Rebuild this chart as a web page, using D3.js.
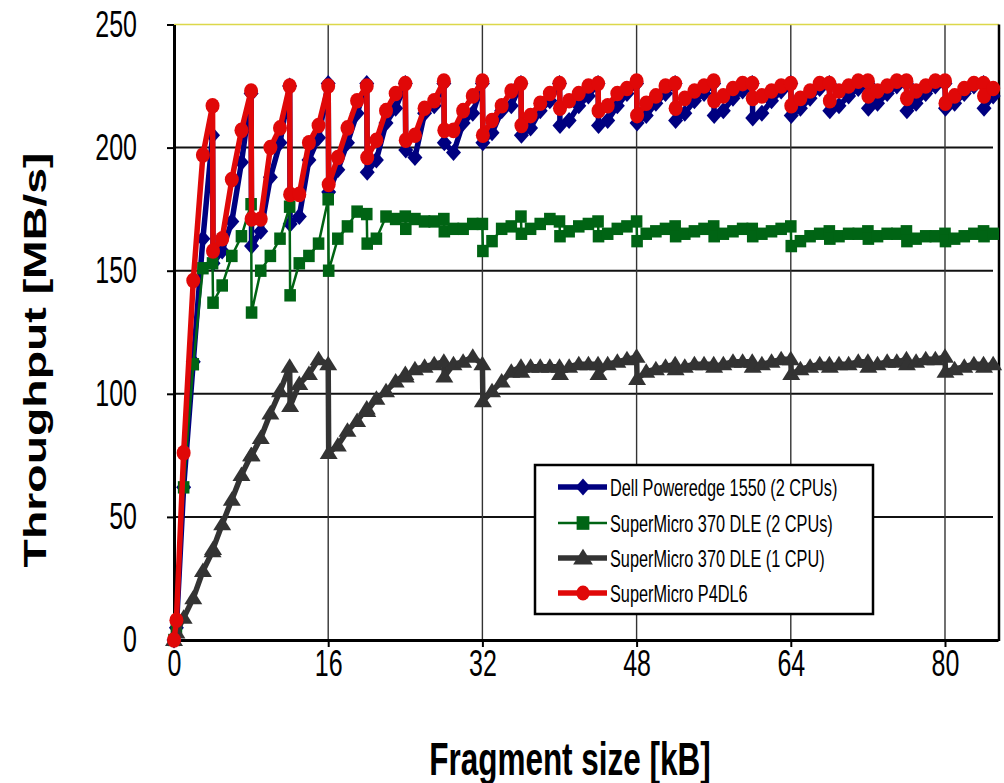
<!DOCTYPE html>
<html>
<head>
<meta charset="utf-8">
<script src="https://cdn.jsdelivr.net/npm/d3@7"></script>
<style>
  body { margin: 0; background: #fff; }
  text { font-family: "Liberation Sans", Arial, sans-serif; }
</style>
</head>
<body>
<script>
// fragment sizes in kB; the x.05 entries are the drop right after each 4 kB step
const fragmentKB = [
  0, 0.25, 1, 2, 3, 4,
  4.05, 5, 6, 7, 8,
  8.05, 9, 10, 11, 12,
  12.05, 13, 14, 15, 16,
  16.05, 17, 18, 19, 20,
  20.05, 21, 22, 23, 24,
  24.05, 25, 26, 27, 28,
  28.05, 29, 30, 31, 32,
  32.05, 33, 34, 35, 36,
  36.05, 37, 38, 39, 40,
  40.05, 41, 42, 43, 44,
  44.05, 45, 46, 47, 48,
  48.05, 49, 50, 51, 52,
  52.05, 53, 54, 55, 56,
  56.05, 57, 58, 59, 60,
  60.05, 61, 62, 63, 64,
  64.05, 65, 66, 67, 68,
  68.05, 69, 70, 71, 72,
  72.05, 73, 74, 75, 76,
  76.05, 77, 78, 79, 80,
  80.05, 81, 82, 83, 84,
  84.05, 85
];

const dellValues = [
  0, 5, 62, 113, 163, 205,
  153, 158, 170, 194, 222,
  160, 166, 188, 202, 225,
  169, 172, 195, 204, 226,
  182, 191, 202, 214, 226,
  190, 195, 210, 216, 226,
  199, 196, 214, 217, 226,
  202, 198, 210, 214, 226,
  202, 206, 215, 217, 226,
  205, 208, 215, 219, 226,
  209, 211, 217, 221, 226,
  209, 211, 217, 222, 226,
  210, 213, 218, 222, 226,
  211, 214, 219, 222, 226,
  213, 215, 220, 223, 226,
  212, 214, 219, 223, 226,
  213, 216, 220, 224, 226,
  215, 217, 221, 224, 226,
  216, 218, 222, 225, 226,
  215, 218, 222, 225, 226,
  216, 218, 222, 225, 226,
  216, 221
];

const sm370TwoCpuValues = [
  0, 5, 62, 112, 151, 153,
  137, 144, 156, 164, 177,
  133, 150, 156, 163, 176,
  140, 153, 156, 161, 179,
  150, 163, 168, 174, 173,
  161, 163, 172, 171, 172,
  167, 171, 170, 170, 171,
  166, 167, 167, 169, 169,
  158, 162, 167, 168, 172,
  165, 167, 169, 171, 170,
  164, 166, 168, 169, 170,
  164, 165, 167, 168, 170,
  162, 165, 166, 167, 168,
  164, 165, 166, 167, 168,
  164, 165, 166, 167, 167,
  164, 165, 166, 167, 168,
  160, 162, 164, 165, 166,
  163, 164, 165, 165, 166,
  163, 164, 165, 165, 166,
  162, 163, 164, 164, 165,
  162, 163, 164, 165, 166,
  164, 165
];

const sm370OneCpuValues = [
  0, 3, 9, 17, 28, 36,
  37, 47, 57, 67, 75,
  75, 82, 92, 101, 111,
  95, 104, 108, 114, 112,
  76, 79, 85, 89, 94,
  93, 98, 101, 105, 108,
  107, 110, 111, 112, 113,
  107, 112, 113, 115, 112,
  97, 101, 105, 109, 111,
  109, 111, 111, 111, 111,
  108, 111, 112, 112, 112,
  108, 112, 113, 114, 115,
  106, 109, 110, 111, 112,
  110, 111, 112, 112, 112,
  111, 112, 113, 113, 113,
  111, 112, 113, 114, 114,
  108, 110, 111, 112, 112,
  111, 112, 112, 113, 113,
  111, 112, 113, 113, 114,
  112, 113, 114, 114, 115,
  109, 110, 111, 112, 112,
  111, 112
];

const p4dl6Values = [
  0, 8, 76, 146, 197, 217,
  158, 163, 187, 207, 223,
  171, 171, 200, 208, 225,
  181, 181, 202, 209, 225,
  185, 196, 208, 219, 225,
  196, 203, 215, 222, 226,
  203, 205, 216, 219, 227,
  207, 207, 215, 221, 227,
  205, 211, 217, 223, 226,
  209, 213, 218, 222, 226,
  216, 219, 222, 225, 226,
  215, 217, 222, 224, 227,
  213, 218, 221, 225, 226,
  216, 220, 223, 225, 227,
  219, 221, 224, 226, 226,
  220, 221, 223, 225, 226,
  217, 220, 223, 226, 226,
  219, 223, 225, 227, 227,
  221, 223, 225, 227, 227,
  220, 223, 225, 227, 227,
  218, 221, 224, 226, 226,
  221, 224
];

const seriesNames = [
  "Dell Poweredge 1550 (2 CPUs)",
  "SuperMicro 370 DLE (2 CPUs)",
  "SuperMicro 370 DLE (1 CPU)",
  "SuperMicro P4DL6"
];
const xTicks = [0, 16, 32, 48, 64, 80];
const yTicks = [0, 50, 100, 150, 200, 250];

// the whole picture is stretched vertically, text too
const STRETCH = 1.45;

// marker shapes (a bit taller than wide)
const markers = {
  diamond: "M0,-8.5L7.5,0L0,8.5L-7.5,0Z",
  square: "M-5.8,-6.2H5.8V6.2H-5.8Z",
  triangle: "M0,-8.5L9,6L-9,6Z",
  circle: "M-7,0A7,7.8 0 1,0 7,0A7,7.8 0 1,0 -7,0Z"
};

const series = [
  { name: seriesNames[0], values: dellValues, color: "#000080", width: 5.5, marker: "diamond" },
  { name: seriesNames[1], values: sm370TwoCpuValues, color: "#006414", width: 2.5, marker: "square" },
  { name: seriesNames[2], values: sm370OneCpuValues, color: "#333333", width: 5.5, marker: "triangle" },
  { name: seriesNames[3], values: p4dl6Values, color: "#e00808", width: 5.5, marker: "circle" }
];

const x = d3.scaleLinear().domain([0, 85.5]).range([174, 998]);
const y = d3.scaleLinear().domain([0, 250]).range([640, 24.5]);

const svg = d3.select("body").append("svg").attr("width", 1004).attr("height", 783);

// grid
svg.append("g")
  .selectAll("line")
  .data(yTicks.filter((d) => d > 0 && d < 250))
  .join("line")
  .attr("x1", x(0))
  .attr("x2", 993)
  .attr("y1", (d) => y(d))
  .attr("y2", (d) => y(d))
  .attr("stroke", "#111")
  .attr("stroke-width", 2);

svg.append("g")
  .selectAll("line")
  .data(xTicks.filter((d) => d > 0))
  .join("line")
  .attr("x1", (d) => x(d))
  .attr("x2", (d) => x(d))
  .attr("y1", y(250))
  .attr("y2", y(0))
  .attr("stroke", "#333")
  .attr("stroke-width", 1.4);

// top and right frame
svg.append("line")
  .attr("x1", x(0)).attr("x2", 999)
  .attr("y1", y(250)).attr("y2", y(250))
  .attr("stroke", "#dcd84a")
  .attr("stroke-width", 1.5);
svg.append("line")
  .attr("x1", 999).attr("x2", 999)
  .attr("y1", y(250)).attr("y2", y(0) + 1)
  .attr("stroke", "#000")
  .attr("stroke-width", 2.5);

// y axis
const yAxis = svg.append("g")
  .attr("transform", `translate(${x(0)},0)`)
  .call(d3.axisLeft(y).tickValues(yTicks).tickSize(7).tickSizeOuter(0).tickPadding(30));
yAxis.select(".domain").attr("stroke-width", 3);
yAxis.selectAll(".tick line").attr("stroke-width", 2);
yAxis.selectAll(".tick text")
  .attr("font-size", 25)
  .attr("fill", "#000")
  .attr("transform", `scale(1,${STRETCH})`);

// x axis
const xAxis = svg.append("g")
  .attr("transform", `translate(0,${y(0)})`)
  .call(d3.axisBottom(x).tickValues(xTicks).tickSize(7).tickSizeOuter(0));
xAxis.select(".domain").attr("stroke-width", 3);
xAxis.selectAll(".tick line").attr("stroke-width", 2);
xAxis.selectAll(".tick text")
  .attr("font-size", 25)
  .attr("fill", "#000")
  .attr("y", 7)
  .attr("transform", `scale(1,${STRETCH})`);

// axis titles
svg.append("text")
  .attr("transform", `translate(570,775) scale(1,${STRETCH})`)
  .attr("text-anchor", "middle")
  .attr("font-size", 31.5)
  .attr("font-weight", "bold")
  .text("Fragment size [kB]");

svg.append("text")
  .attr("transform", `translate(46,360) rotate(-90) scale(${STRETCH},1)`)
  .attr("text-anchor", "middle")
  .attr("font-size", 32)
  .attr("font-weight", "bold")
  .text("Throughput [MB/s]");

// series lines + markers
const line = d3.line()
  .x((d) => x(d[0]))
  .y((d) => y(d[1]));

series.forEach((s) => {
  const pts = fragmentKB.map((k, i) => [k, s.values[i]]);
  const g = svg.append("g");
  g.append("path")
    .datum(pts)
    .attr("d", line)
    .attr("fill", "none")
    .attr("stroke", s.color)
    .attr("stroke-width", s.width)
    .attr("stroke-linejoin", "round");
  g.selectAll("path.mark")
    .data(pts)
    .join("path")
    .attr("class", "mark")
    .attr("d", markers[s.marker])
    .attr("transform", (d) => `translate(${x(d[0])},${y(d[1])})`)
    .attr("fill", s.color);
});

// legend
const legend = svg.append("g");
legend.append("rect")
  .attr("x", 535)
  .attr("y", 465)
  .attr("width", 338)
  .attr("height", 149)
  .attr("fill", "#fff")
  .attr("stroke", "#000")
  .attr("stroke-width", 2.5);

const rowY = [487, 523, 558, 593];
const legendMarkerScale = { diamond: 1.0, square: 1.1, triangle: 1.1, circle: 0.95 };
series.forEach((s, i) => {
  const row = legend.append("g").attr("transform", `translate(0,${rowY[i]})`);
  row.append("line")
    .attr("x1", 558).attr("x2", 607)
    .attr("stroke", s.color)
    .attr("stroke-width", s.width);
  row.append("path")
    .attr("d", markers[s.marker])
    .attr("transform", `translate(583,0) scale(${legendMarkerScale[s.marker]})`)
    .attr("fill", s.color);
  row.append("text")
    .attr("transform", `translate(610,0) scale(1,${STRETCH})`)
    .attr("dy", "0.36em")
    .attr("font-size", 16.3)
    .text(s.name);
});
</script>
</body>
</html>
